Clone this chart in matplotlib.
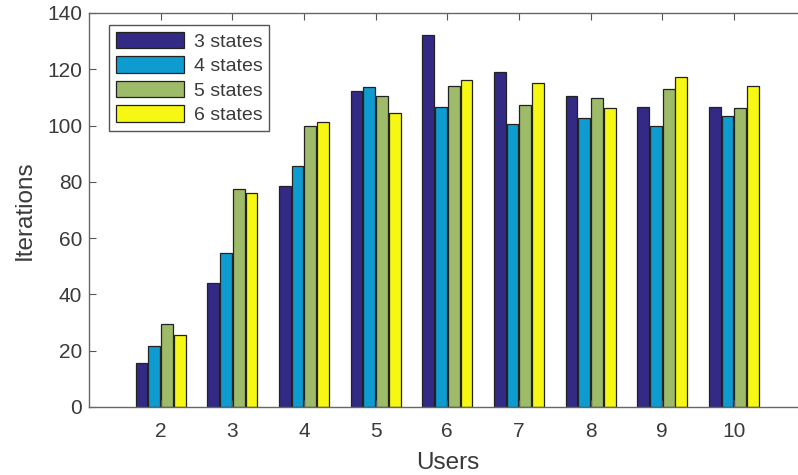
import numpy as np
import matplotlib
matplotlib.use("Agg")
import matplotlib.pyplot as plt

# data
users = [2, 3, 4, 5, 6, 7, 8, 9, 10]
states_3 = [15.5, 44.0, 78.6, 112.1, 132.0, 118.9, 110.5, 106.5, 106.6]
states_4 = [21.8, 54.6, 85.7, 113.6, 106.5, 100.6, 102.7, 100.0, 103.5]
states_5 = [29.5, 77.5, 99.9, 110.5, 114.1, 107.2, 109.9, 113.0, 106.4]
states_6 = [25.6, 76.0, 101.2, 104.4, 116.2, 115.0, 106.4, 117.2, 114.2]
labels = ["3 states", "4 states", "5 states", "6 states"]
colors = ["#332a86", "#0e9bd0", "#9dbb68", "#f7f714"]

plt.rcParams['font.family'] = ['Liberation Sans', 'DejaVu Sans']
txt = "#3a3a3a"

fig = plt.figure(figsize=(7.98, 4.75), dpi=100)
ax = fig.add_axes([0.1115, 0.1432, 0.898, 0.8295])

x = np.array(users, dtype=float)
step = 0.178
series = [states_3, states_4, states_5, states_6]
for i, (vals, lab, c) in enumerate(zip(series, labels, colors)):
    ax.bar(x + (i - 1.5) * step, vals, width=0.165, color=c,
           edgecolor="#222222", linewidth=0.9, label=lab)

ax.set_xlim(1, 11)
ax.set_ylim(0, 140)
ax.set_xticks(users)
ax.set_yticks(range(0, 141, 20))
ax.tick_params(direction="in", top=True, right=True, labelsize=15,
               colors="#555555", labelcolor=txt, length=5)
ax.tick_params(axis="x", pad=11)
ax.tick_params(axis="y", pad=5)
for s in ax.spines.values():
    s.set_color("#666666")
    s.set_linewidth(1.0)
ax.spines["right"].set_visible(False)

ax.set_xlabel("Users", fontsize=17.5, color=txt, labelpad=8)
ax.set_ylabel("Iterations", fontsize=17.5, color=txt, labelpad=8)

leg = ax.legend(loc="upper left", bbox_to_anchor=(0.02, 0.985), fontsize=14,
                fancybox=False, edgecolor="#555555", framealpha=1,
                handlelength=3.5, handleheight=0.95, labelspacing=0.28,
                borderpad=0.35, handletextpad=0.5, borderaxespad=0.3)
for t in leg.get_texts():
    t.set_color(txt)

fig.savefig("out.png", dpi=100)
